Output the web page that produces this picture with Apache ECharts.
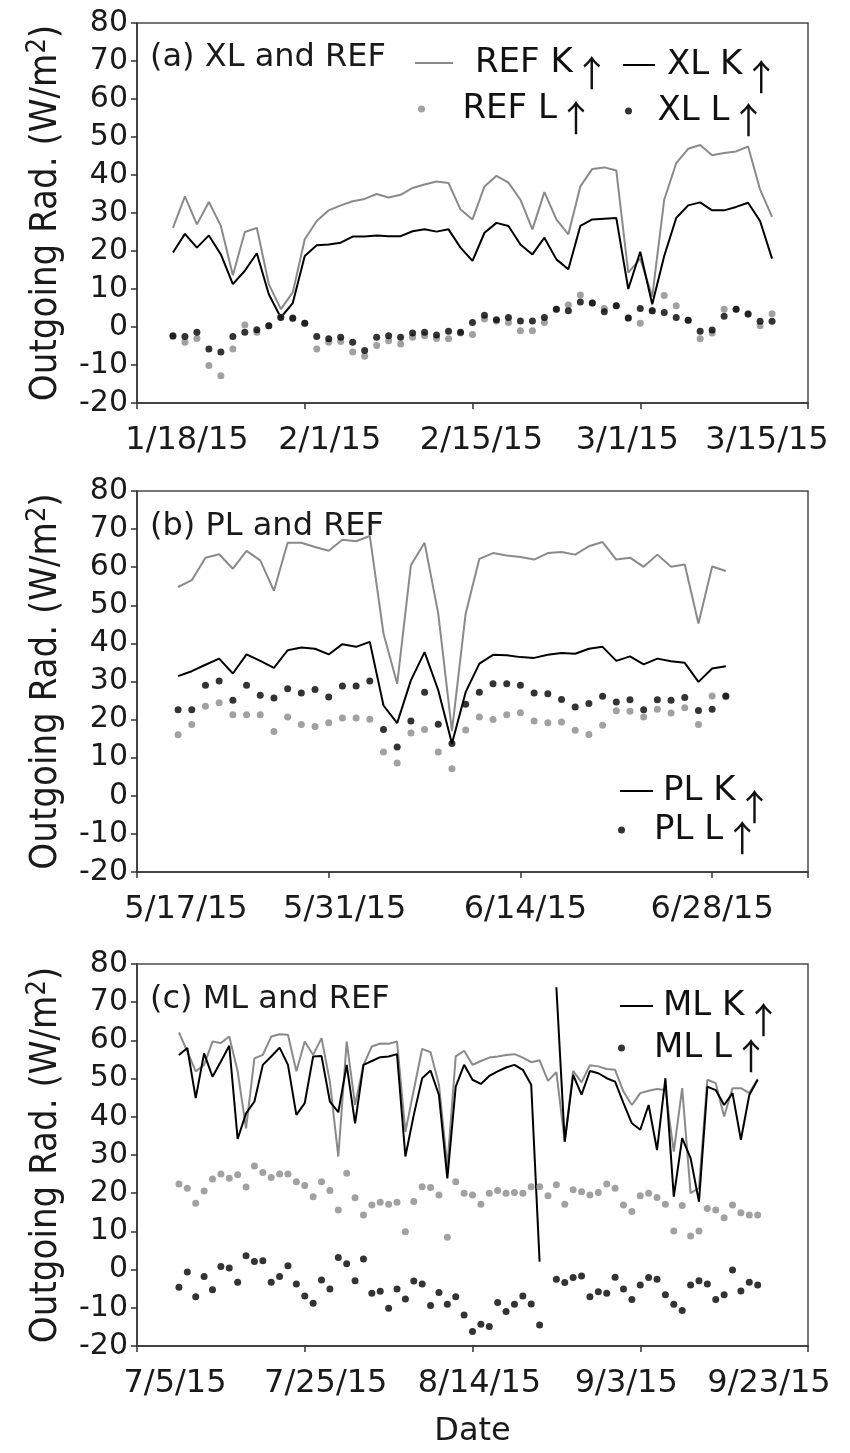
<!DOCTYPE html>
<html><head><meta charset="utf-8">
<script src="https://cdn.jsdelivr.net/npm/echarts@6/dist/echarts.min.js"></script>
<style>html,body{margin:0;padding:0;background:#fff}#c{width:850px;height:1453px}</style>
</head><body><div id="c"></div>
<script>
// ---------------- DATA ----------------
const datesA = ['1/21/15','1/22/15','1/23/15','1/24/15','1/25/15','1/26/15','1/27/15','1/28/15','1/29/15','1/30/15','1/31/15',
 '2/1/15','2/2/15','2/3/15','2/4/15','2/5/15','2/6/15','2/7/15','2/8/15','2/9/15','2/10/15','2/11/15','2/12/15','2/13/15','2/14/15',
 '2/15/15','2/16/15','2/17/15','2/18/15','2/19/15','2/20/15','2/21/15','2/22/15','2/23/15','2/24/15','2/25/15','2/26/15','2/27/15','2/28/15',
 '3/1/15','3/2/15','3/3/15','3/4/15','3/5/15','3/6/15','3/7/15','3/8/15','3/9/15','3/10/15','3/11/15','3/12/15'];
const refKA = [26.1,34.4,27.0,32.9,26.6,13.6,25.0,26.1,11.3,4.7,9.1,
 23.1,27.9,30.7,32.0,33.1,33.7,35.0,34.1,34.8,36.6,
 37.5,38.3,37.9,30.9,28.3,37.0,39.8,38.0,33.5,25.7,
 35.5,28.3,24.4,37.0,41.6,42.0,41.2,14.3,18.0,8.0,
 33.5,43.1,46.9,47.9,45.2,45.8,46.2,47.5,36.2,29.0];
const xlKA = [19.6,24.5,20.9,24.1,19.1,11.3,14.8,19.4,8.6,2.5,6.3,
 18.7,21.5,21.7,22.2,23.8,23.8,24.1,23.9,23.9,25.2,
 25.7,25.1,25.7,20.9,17.4,24.8,27.4,26.6,21.7,19.1,
 23.5,17.8,15.2,26.6,28.3,28.5,28.7,10.0,19.8,6.0,
 18.7,28.7,32.0,32.8,30.7,30.7,31.6,32.7,27.9,18.0];
const refLA = [-2.5,-4.0,-3.0,-10.1,-12.8,-5.8,0.5,-1.4,0.3,2.6,2.2,
 1.0,-5.8,-4.0,-3.8,-6.6,-7.7,-4.9,-3.6,-4.5,-2.7,
 -2.3,-3.0,-3.1,-1.6,-2.0,2.1,1.6,1.2,-1.0,-1.0,
 1.2,4.7,5.8,8.4,6.3,4.9,5.6,2.4,1.0,4.3,
 8.3,5.6,1.8,-3.1,-1.6,4.7,4.7,3.4,0.3,3.5];
const xlLA = [-2.3,-2.5,-1.4,-5.8,-6.6,-2.5,-1.4,-0.7,0.3,2.5,2.4,
 1.0,-2.5,-3.1,-2.7,-4.0,-6.2,-2.7,-2.3,-2.7,-1.6,
 -1.4,-2.1,-1.1,-1.4,1.2,3.1,1.9,2.5,1.6,1.6,
 2.5,4.7,4.3,6.6,6.3,4.0,5.6,2.4,4.9,4.3,
 3.8,2.5,1.8,-1.1,-0.8,2.8,4.7,3.4,1.5,1.5];

const datesB = ['5/20/15','5/21/15','5/22/15','5/23/15','5/24/15','5/25/15','5/26/15','5/27/15','5/28/15','5/29/15','5/30/15','5/31/15',
 '6/1/15','6/2/15','6/3/15','6/4/15','6/5/15','6/6/15','6/7/15','6/8/15','6/9/15','6/10/15','6/11/15','6/12/15','6/13/15','6/14/15',
 '6/15/15','6/16/15','6/17/15','6/18/15','6/19/15','6/20/15','6/21/15','6/22/15','6/23/15','6/24/15','6/25/15','6/26/15','6/27/15','6/28/15','6/29/15'];
const refKB = [54.8,56.6,62.5,63.4,59.6,64.3,61.8,53.8,66.4,66.4,
 65.3,64.3,67.2,66.8,68.2,42.6,29.4,60.5,66.4,47.8,
 17.0,47.8,62.2,63.7,63.1,62.7,62.0,63.7,64.0,63.3,
 65.5,66.6,62.0,62.5,60.1,63.3,60.1,60.7,45.2,60.2,59.0];
const plKB = [31.4,32.7,34.4,36.0,32.1,37.1,35.4,33.6,38.2,38.9,
 38.6,37.1,39.8,39.1,40.4,23.7,19.1,30.3,37.7,27.7,
 13.7,27.2,34.7,37.0,36.9,36.4,36.2,37.0,37.5,37.3,
 38.6,39.1,35.4,36.6,34.5,36.0,35.3,34.9,29.9,33.4,34.0];
const refLB = [16.0,18.7,23.5,24.4,21.3,21.3,21.3,16.9,20.7,18.7,
 18.2,19.2,20.4,20.4,20.1,11.5,8.6,16.5,17.4,11.5,
 7.1,17.3,20.7,20.0,21.3,21.8,19.6,19.2,19.4,17.2,
 16.1,18.5,22.3,22.2,20.7,22.7,21.7,23.1,18.7,26.2,26.0];
const plLB = [22.6,22.6,29.0,30.1,25.1,29.0,26.4,25.7,28.1,27.0,
 27.9,25.9,28.8,28.8,30.1,17.4,12.8,19.6,27.2,18.8,
 13.7,24.0,27.2,29.4,29.4,29.0,27.0,26.8,25.3,23.3,
 24.2,26.1,24.6,25.2,22.6,25.2,25.1,25.8,22.4,22.7,26.2];

const datesC = ['7/10/15','7/11/15','7/12/15','7/13/15','7/14/15','7/15/15','7/16/15','7/17/15','7/18/15','7/19/15','7/20/15',
 '7/21/15','7/22/15','7/23/15','7/24/15','7/25/15','7/26/15','7/27/15','7/28/15','7/29/15','7/30/15','7/31/15',
 '8/1/15','8/2/15','8/3/15','8/4/15','8/5/15','8/6/15','8/7/15','8/8/15','8/9/15','8/10/15','8/11/15','8/12/15','8/13/15','8/14/15','8/15/15',
 '8/16/15','8/17/15','8/18/15','8/19/15','8/20/15','8/21/15','8/22/15','8/23/15','8/24/15','8/25/15','8/26/15','8/27/15','8/28/15','8/29/15','8/30/15','8/31/15',
 '9/1/15','9/2/15','9/3/15','9/4/15','9/5/15','9/6/15','9/7/15','9/8/15','9/9/15','9/10/15','9/11/15','9/12/15','9/13/15','9/14/15','9/15/15','9/16/15','9/17/15'];
const refKC = [62.1,57.1,51.9,53.6,59.7,59.3,61.0,51.9,37.0,55.3,
 56.2,61.0,61.6,61.5,51.9,59.7,56.2,60.6,49.2,29.6,
 59.7,43.1,53.6,58.4,59.2,59.1,59.7,36.1,47.0,57.8,
 56.9,48.4,27.0,55.8,57.3,53.6,54.6,55.5,55.8,56.2,
 56.4,55.5,54.3,54.8,49.4,51.7,33.5,52.0,49.0,53.5,
 53.2,52.5,52.3,46.6,43.1,46.2,46.8,47.3,47.0,30.9,
 47.5,20.0,21.3,49.7,48.8,40.1,47.5,47.5,46.2,49.9];
const mlKC = [56.2,58.0,44.9,56.6,50.5,54.5,58.6,34.2,40.9,44.0,
 53.6,55.8,58.1,53.6,40.5,43.6,55.8,55.9,44.0,41.2,
 53.6,38.3,53.6,54.6,55.6,55.8,56.4,29.6,40.5,50.1,
 52.1,45.7,23.9,47.9,53.6,49.7,48.6,50.7,51.9,52.9,
 53.6,52.3,48.4,2.1,null,73.9,33.5,51.0,45.8,52.0,
 51.4,50.1,49.2,43.6,38.3,36.6,43.1,31.3,50.1,19.1,
 34.4,29.2,17.8,47.9,47.0,43.1,46.2,34.0,45.7,49.7];
const refLC = [22.4,21.3,17.4,20.6,23.7,25.0,23.9,24.8,21.6,27.1,
 25.4,24.1,25.0,25.0,23.0,22.0,19.1,23.0,20.7,15.6,
 25.2,18.8,14.3,16.9,17.6,17.1,17.6,9.9,17.8,21.7,
 21.5,19.5,8.5,23.0,20.0,19.5,17.1,20.0,20.7,20.0,
 20.2,20.0,21.7,21.7,19.3,22.2,17.1,20.9,20.4,19.5,
 20.2,22.4,21.3,16.9,15.2,19.3,20.0,18.9,17.1,10.1,
 16.8,8.8,10.1,16.0,15.6,13.6,16.9,14.9,14.3,14.3];
const mlLC = [-4.6,-0.6,-7.1,-1.8,-5.3,0.8,0.4,-3.3,3.6,2.1,
 2.3,-3.3,-1.8,1.0,-3.8,-6.9,-8.8,-2.7,-5.1,3.2,
 1.5,-2.9,2.8,-6.2,-5.7,-10.1,-5.1,-7.7,-3.0,-3.8,
 -9.4,-6.0,-9.1,-7.1,-11.9,-16.2,-14.3,-14.9,-8.6,-11.0,
 -9.1,-6.9,-9.0,-14.5,null,-2.5,-3.4,-2.1,-1.7,-7.1,
 -5.8,-6.2,-2.0,-5.1,-7.8,-4.0,-2.1,-2.5,-6.6,-9.1,
 -10.7,-4.0,-2.9,-3.8,-7.8,-6.6,-0.1,-5.6,-3.3,-4.0];

const xTicksA = ['1/18/15','2/1/15','2/15/15','3/1/15','3/15/15'];
const xTicksB = ['5/17/15','5/31/15','6/14/15','6/28/15'];
const xTicksC = ['7/5/15','7/25/15','8/14/15','9/3/15','9/23/15'];
const yMin = -20, yMax = 80, yStep = 10;
const yTitle = ['Outgoing Rad. (W/m', '2', ')'];

// ---------------- HELPERS ----------------
function parseMDY(s){const p=s.split('/').map(Number);return Date.UTC(2000+p[2],p[0]-1,p[1]);}
function offsets(dates,start){const t0=parseMDY(start);return dates.map(s=>Math.round((parseMDY(s)-t0)/86400000));}
function linePairs(xs,ys){return xs.map((x,i)=>[x, ys[i]==null?'-':ys[i]]);}
function dotPairs(xs,ys){return xs.map((x,i)=>[x,ys[i]]).filter(p=>p[1]!=null);}

const GRAY = '#8a8a8a', BLACK = '#000', TXT = '#1a1a1a';
const FONT = 'DejaVu Sans';
const COND = "'DejaVu Sans Condensed', 'Liberation Sans Narrow', 'DejaVu Sans'";
const ARW = "'Noto Sans CJK JP', 'DejaVu Sans'";

const panels = [
 {title:'(a) XL and REF', start:'1/18/15', max:56, interval:14, ticks:xTicksA, shifts:[50,25,9,-13,-41],
  dates:datesA, refK:refKA, k:xlKA, refL:refLA, l:xlLA, kName:'XL K', lName:'XL L', top:23, height:380, titleTop:42, xName:''},
 {title:'(b) PL and REF', start:'5/17/15', max:49, interval:14, ticks:xTicksB, shifts:[49,16,5,0],
  dates:datesB, refK:refKB, k:plKB, refL:refLB, l:plLB, kName:'PL K', lName:'PL L', top:491, height:381, titleTop:511, xName:''},
 {title:'(c) ML and REF', start:'7/5/15', max:80, interval:20, ticks:xTicksC, shifts:[38,21,7,-14,-39],
  dates:datesC, refK:refKC, k:mlKC, refL:refLC, l:mlLC, kName:'ML K', lName:'ML L', top:964, height:382, titleTop:984, xName:'Date'}
];

const legendLayout = [
 {name:'REF K', left:415, cy:55, w:38, pad:17, line:true, sh:10},
 {name:'XL K', left:623, cy:55, w:32, pad:7, line:true, sh:12},
 {name:'REF L', left:418, cy:102, w:38, pad:17, line:false, sh:9},
 {name:'XL L', left:625, cy:104, w:32, pad:8, line:false, sh:9},
 {name:'PL K', left:620, cy:777, w:33, pad:5, line:true, sh:16},
 {name:'PL L', left:618, cy:824, w:33, pad:11, line:false, sh:8},
 {name:'ML K', left:620, cy:994, w:33, pad:5, line:true, sh:14},
 {name:'ML L', left:618, cy:1042, w:33, pad:11, line:false, sh:8}
];

const grid=[], xAxis=[], yAxis=[], series=[], title=[];
panels.forEach((p,i)=>{
  grid.push({left:137, width:671, top:p.top, height:p.height, show:true, borderColor:'#4a4a4a', borderWidth:1.5,
    backgroundColor:'transparent', containLabel:false, outerBoundsMode:'none'});
  const rich={};
  p.shifts.forEach((s,j)=>{rich['s'+j]={fontFamily:FONT, fontSize:32, lineHeight:32, color:TXT,
    padding: s>=0?[0,0,0,2*s]:[0,-2*s,0,0]};});
  // two x axes on the same scale: one carries even tick labels (plus line/ticks), the other odd ones
  [0,1].forEach(par=>{
    xAxis.push({type:'value', gridIndex:i, position:'bottom', offset:0, min:0, max:p.max, interval:p.interval,
      axisLine:{show:par===0, onZero:false, lineStyle:{color:'#333', width:1.5}},
      axisTick:{show:par===0, inside:false, length:6, lineStyle:{color:'#333', width:1.5}},
      splitLine:{show:false},
      axisLabel:{show:true, margin:22, showMinLabel:true, showMaxLabel:true, hideOverlap:false,
        formatter:(v)=>{const j=Math.round(v/p.interval); if(Math.abs(v-j*p.interval)>1e-6||j>=p.ticks.length||j%2!==par) return ''; return '{s'+j+'|'+p.ticks[j]+'}';},
        rich:rich},
      name:par===0?p.xName:'', nameLocation:'middle', nameGap:86,
      nameTextStyle:{fontFamily:FONT, fontSize:32, color:TXT, verticalAlign:'middle'}
    });
  });
  yAxis.push({type:'value', gridIndex:i, min:yMin, max:yMax, interval:yStep,
    axisLine:{show:true, onZero:false, lineStyle:{color:'#333', width:1.5}},
    axisTick:{show:true, inside:false, length:6, lineStyle:{color:'#333', width:1.5}},
    splitLine:{show:false},
    axisLabel:{fontFamily:FONT, fontSize:30, color:TXT, margin:9, showMinLabel:true, showMaxLabel:true},
    name:'{t|'+yTitle[0]+'}{s|'+yTitle[1]+'}{t|'+yTitle[2]+'}', nameLocation:'middle', nameGap:91,
    nameTextStyle:{fontFamily:COND, fontSize:38, color:TXT, verticalAlign:'middle', align:'center',
      rich:{t:{fontFamily:COND, fontSize:38, lineHeight:44, color:TXT},
            s:{fontFamily:COND, fontSize:27, lineHeight:44, color:TXT, padding:[0,0,16,0]}}}
  });
  title.push({text:p.title, left:150, top:p.titleTop, padding:0,
    textStyle:{fontFamily:FONT, fontSize:32, fontWeight:'normal', color:TXT}});
  const xs=offsets(p.dates,p.start);
  const xi=2*i;
  series.push({name:'REF K', type:'line', xAxisIndex:xi, yAxisIndex:i, data:linePairs(xs,p.refK), symbol:'none', showSymbol:false,
    lineStyle:{color:GRAY, width:2}, itemStyle:{color:GRAY}, connectNulls:false, z:2});
  series.push({name:p.kName, type:'line', xAxisIndex:xi, yAxisIndex:i, data:linePairs(xs,p.k), symbol:'none', showSymbol:false,
    lineStyle:{color:BLACK, width:2}, itemStyle:{color:BLACK}, connectNulls:false, z:3});
  series.push({name:'REF L', type:'scatter', xAxisIndex:xi, yAxisIndex:i, data:dotPairs(xs,p.refL), symbol:'circle',
    symbolSize:7, itemStyle:{color:GRAY}, z:4});
  series.push({name:p.lName, type:'scatter', xAxisIndex:xi, yAxisIndex:i, data:dotPairs(xs,p.l), symbol:'circle',
    symbolSize:7, itemStyle:{color:BLACK}, z:5});
});

const legend = legendLayout.map(L=>({
  data:[{name:L.name, icon: L.line ? 'rect' : 'circle'}], left:L.left, top:L.cy-20, padding:0,
  itemWidth:L.w, itemHeight: L.line ? 2 : 7, selectedMode:false, orient:'horizontal',
  formatter:(n)=>'{t|'+n+'}{a|\u2191}',
  textStyle:{fontFamily:FONT, fontSize:34, color:'#111',
    rich:{t:{fontFamily:FONT, fontSize:34, lineHeight:40, color:'#111', padding:[0,0,0,L.pad]},
          a:{fontFamily:ARW, fontSize:36, lineHeight:40, color:'#111', padding:[2*L.sh,0,0,1]}}}
}));

const chart = echarts.init(document.getElementById('c'), null, {renderer:'canvas', width:850, height:1453});
chart.setOption({animation:false, backgroundColor:'#fff', grid, xAxis, yAxis, series, title, legend});
</script>
</body></html>
